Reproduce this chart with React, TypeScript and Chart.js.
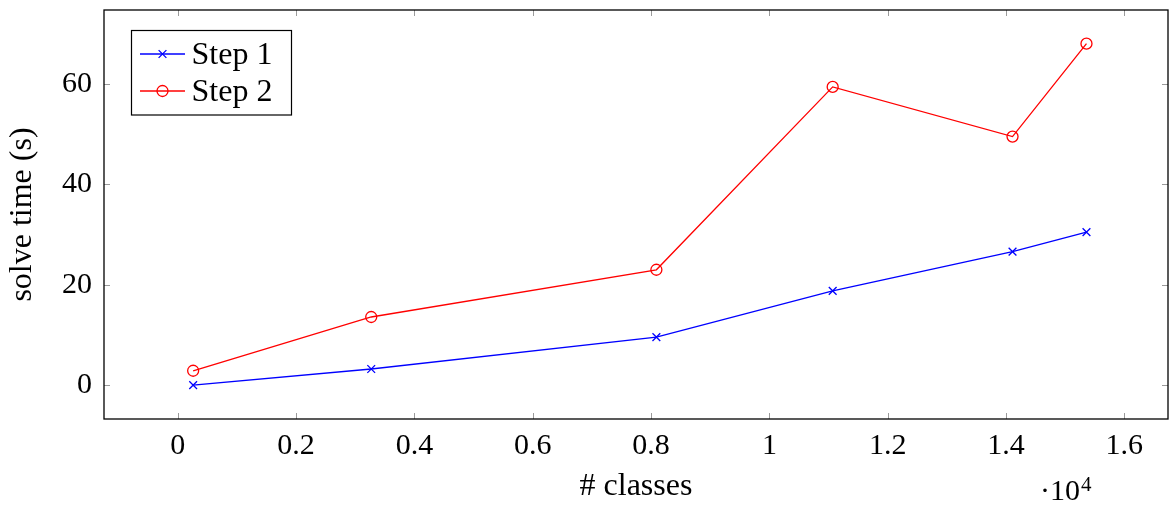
import React, { useEffect, useRef } from "react";
import { Chart, registerables } from "chart.js";

Chart.register(...registerables);

const classes = [260, 3270, 8090, 11070, 14110, 15360];
const step1 = [0.05, 3.25, 9.6, 18.8, 26.6, 30.5];
const step2 = [2.9, 13.6, 23.0, 59.4, 49.5, 68.0];
const seriesLabels = ["Step 1", "Step 2"];
const xTickValues = [0, 2000, 4000, 6000, 8000, 10000, 12000, 14000, 16000];
const yTickValues = [0, 20, 40, 60];
const xTitle = "# classes";
const yTitle = "solve time (s)";
const xExponentLabel = "·10";
const xExponent = "4";

const SERIF = "'Liberation Serif', 'DejaVu Serif', serif";

const framePlugin = {
  id: "frame",
  afterDraw(chart: any) {
    const { ctx, chartArea } = chart;
    const { left, right, top, bottom } = chartArea;
    const xs = chart.scales.x;
    const ys = chart.scales.y;
    ctx.save();
    ctx.strokeStyle = "#9a9a9a";
    ctx.lineWidth = 1;
    const tl = 6;
    ctx.beginPath();
    xs.ticks.forEach((t: any) => {
      const px = Math.round(xs.getPixelForValue(t.value)) + 0.5;
      ctx.moveTo(px, bottom);
      ctx.lineTo(px, bottom - tl);
      ctx.moveTo(px, top);
      ctx.lineTo(px, top + tl);
    });
    ys.ticks.forEach((t: any) => {
      const py = Math.round(ys.getPixelForValue(t.value)) + 0.5;
      ctx.moveTo(left, py);
      ctx.lineTo(left + tl, py);
      ctx.moveTo(right, py);
      ctx.lineTo(right - tl, py);
    });
    ctx.stroke();
    ctx.strokeStyle = "#000";
    ctx.lineWidth = 1.3;
    ctx.strokeRect(left, top, right - left, bottom - top);

    ctx.fillStyle = "#000";
    ctx.textBaseline = "alphabetic";
    ctx.textAlign = "left";
    ctx.font = `30px ${SERIF}`;
    const ex = 1040;
    ctx.fillText(xExponentLabel, ex, 500);
    const w = ctx.measureText(xExponentLabel).width;
    ctx.font = `21px ${SERIF}`;
    ctx.fillText(xExponent, ex + w + 1, 491);

    const lx = left + 27.5;
    const ly = top + 20.5;
    const lw = 160;
    const lh = 84.5;
    ctx.fillStyle = "#fff";
    ctx.fillRect(lx, ly, lw, lh);
    ctx.strokeStyle = "#000";
    ctx.lineWidth = 1.2;
    ctx.strokeRect(lx, ly, lw, lh);
    chart.data.datasets.forEach((ds: any, i: number) => {
      const cy = ly + 23.5 + i * 37;
      ctx.strokeStyle = ds.borderColor;
      ctx.lineWidth = 1.3;
      ctx.beginPath();
      ctx.moveTo(lx + 8.5, cy);
      ctx.lineTo(lx + 53.5, cy);
      ctx.stroke();
      ctx.beginPath();
      if (ds.pointStyle === "circle") {
        ctx.arc(lx + 31, cy, ds.pointRadius, 0, Math.PI * 2);
      } else {
        const o = ds.pointRadius * Math.SQRT1_2;
        ctx.moveTo(lx + 31 - o, cy - o);
        ctx.lineTo(lx + 31 + o, cy + o);
        ctx.moveTo(lx + 31 + o, cy - o);
        ctx.lineTo(lx + 31 - o, cy + o);
      }
      ctx.stroke();
      ctx.fillStyle = "#000";
      ctx.font = `32px ${SERIF}`;
      ctx.textBaseline = "alphabetic";
      ctx.fillText(ds.label, lx + 60, cy + 9.5);
    });
    ctx.restore();
  },
};

export default function App() {
  const ref = useRef<HTMLCanvasElement | null>(null);
  useEffect(() => {
    document.body.style.margin = "0";
    if (!ref.current) return;
    const chart = new Chart(ref.current, {
      type: "line",
      data: {
        datasets: [
          {
            label: seriesLabels[0],
            data: classes.map((c, i) => ({ x: c, y: step1[i] })),
            borderColor: "#0000ff",
            backgroundColor: "#0000ff",
            borderWidth: 1.3,
            pointStyle: "crossRot",
            pointRadius: 5.5,
            pointBorderWidth: 1.3,
            pointBorderColor: "#0000ff",
            tension: 0,
            fill: false,
          },
          {
            label: seriesLabels[1],
            data: classes.map((c, i) => ({ x: c, y: step2[i] })),
            borderColor: "#ff0000",
            backgroundColor: "rgba(0,0,0,0)",
            borderWidth: 1.3,
            pointStyle: "circle",
            pointRadius: 5.5,
            pointBorderWidth: 1.3,
            pointBorderColor: "#ff0000",
            pointBackgroundColor: "rgba(0,0,0,0)",
            tension: 0,
            fill: false,
          },
        ],
      },
      options: {
        animation: false,
        responsive: false,
        maintainAspectRatio: false,
        layout: { autoPadding: false, padding: { left: 0, top: 10, right: 2, bottom: 0 } },
        plugins: {
          legend: { display: false },
          tooltip: { enabled: false },
        },
        scales: {
          x: {
            type: "linear",
            min: -1247,
            max: 16738,
            grid: { display: false, drawTicks: false, tickLength: 0 },
            border: { display: false },
            afterBuildTicks: (s: any) => {
              s.ticks = xTickValues.map((v) => ({ value: v }));
            },
            ticks: {
              padding: 9,
              color: "#000",
              font: { family: SERIF, size: 30 },
              maxRotation: 0,
              autoSkip: false,
              callback: (v: any) => String(Number((Number(v) / 10000).toFixed(1))),
            },
            title: {
              display: true,
              text: xTitle,
              color: "#000",
              font: { family: SERIF, size: 32 },
              padding: { top: 0, bottom: 0 },
            },
            afterFit: (s: any) => {
              s.height = 87;
              s.paddingLeft = 0;
              s.paddingRight = 0;
            },
          },
          y: {
            type: "linear",
            min: -6.7,
            max: 74.7,
            grid: { display: false, drawTicks: false, tickLength: 0 },
            border: { display: false },
            afterBuildTicks: (s: any) => {
              s.ticks = yTickValues.map((v) => ({ value: v }));
            },
            ticks: {
              padding: 12,
              color: "#000",
              font: { family: SERIF, size: 30 },
            },
            title: {
              display: true,
              text: yTitle,
              color: "#000",
              font: { family: SERIF, size: 32 },
              padding: { top: 3, bottom: 0 },
            },
            afterFit: (s: any) => {
              s.width = 104;
              s.paddingTop = 0;
              s.paddingBottom = 0;
            },
          },
        },
      },
      plugins: [framePlugin],
    });
    return () => chart.destroy();
  }, []);
  return (
    <div style={{ width: 1170, height: 506 }}>
      <canvas ref={ref} width={1170} height={506} style={{ display: "block" }} />
    </div>
  );
}
